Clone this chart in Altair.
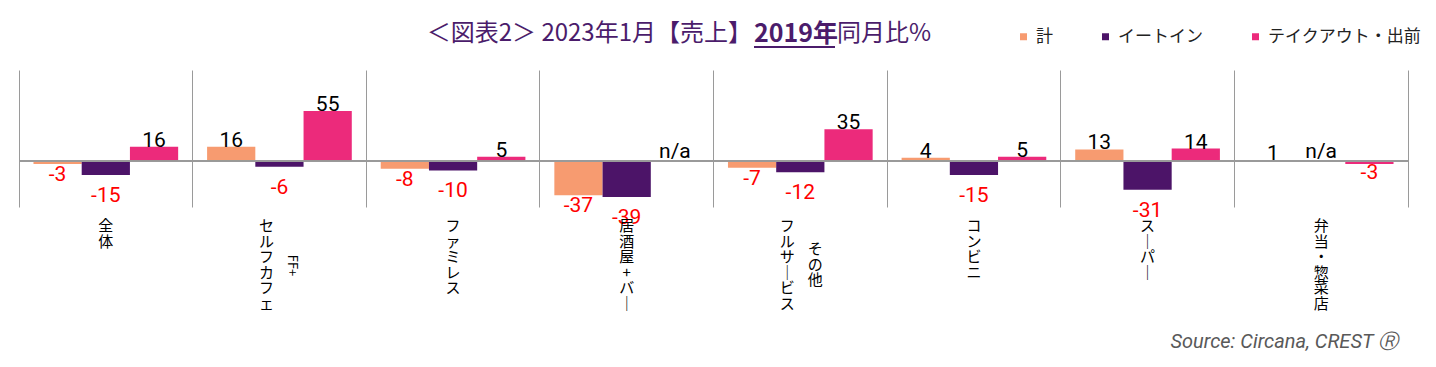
import altair as alt
import pandas as pd

# ---------------- data ----------------
categories = ["全体", "FF+セルフカフェ", "ファミレス", "居酒屋+バー",
              "フルサービスその他", "コンビニ", "スーパー", "弁当・惣菜店"]
label_columns = [["全体"], ["セルフカフェ", "FF+"], ["ファミレス"], ["居酒屋+バー"],
                 ["フルサービス", "その他"], ["コンビニ"], ["スーパー"], ["弁当・惣菜店"]]
series = ["計", "イートイン", "テイクアウト・出前"]
total = [-3, 16, -8, -37, -7, 4, 13, 1]
eat_in = [-15, -6, -10, -39, -12, -15, -31, None]
takeout = [16, 55, 5, None, 35, 5, 14, -3]
colors = ["#F79B70", "#4C1468", "#EC2A7B"]
title_parts = ["＜図表2＞ 2023年1月【売上】", "2019年", "同月比%"]
source_text = "Source: Circana, CREST Ⓡ"

# ---------------- layout ----------------
W, H = 1389, 137
YMIN, YMAX = -50, 100
GRID = "#9a9a9a"
JP = "Noto Sans CJK JP"
LH = 15.5

rows = []
for s, vals in zip(series, [total, eat_in, takeout]):
    for c, v in zip(categories, vals):
        rows.append({"cat": c, "series": s, "value": v,
                     "label": "n/a" if v is None else str(v)})
df = pd.DataFrame(rows)
df["value"] = df["value"].astype("float")


def vertical(s):
    return "\n".join(ch if ch != "ー" else "｜" for ch in s)


lab_rows = []
for c, cols in zip(categories, label_columns):
    maxlen = max(len(x) for x in cols)
    for i, col in enumerate(cols):
        if len(cols) == 1:
            kind = "single"
        elif i == 0:
            kind = "main"
        elif col.isascii():
            kind = "rot"
        else:
            kind = "second"
        lab_rows.append({"cat": c, "text": col if kind == "rot" else vertical(col),
                         "kind": kind, "maxlen": maxlen, "n": len(col)})
lab_df = pd.DataFrame(lab_rows)

yscale = alt.Scale(domain=[YMIN, YMAX], nice=False, zero=False)
yaxis = alt.Axis(orient="right", title=None, labels=False, ticks=False, grid=False,
                 domain=True, domainColor=GRID, domainWidth=1)
xscale = alt.Scale(paddingInner=0, paddingOuter=0)
xaxis = alt.Axis(title=None, labels=False, ticks=False, domain=False, grid=True,
                 bandPosition=0, gridColor=GRID, gridWidth=1)

X = alt.X("cat:N", sort=categories, scale=xscale, axis=xaxis)
XO = alt.XOffset("series:N", sort=series, scale=alt.Scale(paddingInner=0, paddingOuter=0.3))
Y = alt.Y("value:Q", scale=yscale, axis=yaxis)

base = alt.Chart(df)

bars = base.mark_bar().encode(
    x=X, xOffset=XO, y=Y,
    color=alt.Color("series:N", sort=series,
                    scale=alt.Scale(domain=series, range=colors),
                    legend=alt.Legend(orient="none", legendX=996, legendY=-42,
                                      direction="horizontal", title=None,
                                      symbolType="square", symbolSize=49,
                                      symbolStrokeWidth=0, labelFont=JP,
                                      labelFontSize=17, labelColor="#222222",
                                      labelOffset=4, columnPadding=44, padding=0)),
)

zero = alt.Chart(df).mark_rule(color=GRID, strokeWidth=1).encode(
    y=alt.Y(datum=0, scale=yscale, axis=yaxis))

val_font = dict(font="Roboto", fontSize=21)
pos_lab = base.transform_filter("datum.value != null && datum.value >= 0").mark_text(
    baseline="alphabetic", color="#000000", **val_font).encode(x=X, xOffset=XO, y=Y, text="label:N")

na_lab = base.transform_filter("datum.value == null").mark_text(
    baseline="alphabetic", color="#000000", dy=-3, **val_font).encode(
    x=X, xOffset=XO, y=alt.Y(datum=0, scale=yscale, axis=yaxis), text="label:N")

neg_layers = []
for s, d in zip(series, [11, 21, 9]):
    neg_layers.append(
        base.transform_filter(f"datum.value != null && datum.value < 0 && datum.series == '{s}'")
        .mark_text(baseline="middle", color="#FF0000", dy=d, **val_font)
        .encode(x=X, xOffset=XO, y=Y, text="label:N"))

lab_base = alt.Chart(lab_df)
YB = alt.Y(datum=YMIN, scale=yscale, axis=yaxis)
cat_font = dict(font=JP, fontSize=15, lineHeight=LH, lineBreak="\n", color="#000000")
lab_single = lab_base.transform_filter("datum.kind == 'single'").mark_text(
    baseline="top", dy=12, **cat_font).encode(x=X, y=YB, text="text:N")
lab_main = lab_base.transform_filter("datum.kind == 'main'").mark_text(
    baseline="top", dy=12, dx=-13, **cat_font).encode(x=X, y=YB, text="text:N")

second_layers = []
for r in lab_rows:
    if r["kind"] == "second":
        d = 12 + (r["maxlen"] - r["n"]) * LH / 2
        second_layers.append(
            lab_base.transform_filter(f"datum.kind == 'second' && datum.cat == '{r['cat']}'")
            .mark_text(baseline="top", dy=d, dx=15, **cat_font)
            .encode(x=X, y=YB, text="text:N"))
    elif r["kind"] == "rot":
        d = 12 + r["maxlen"] * LH / 2
        second_layers.append(
            lab_base.transform_filter(f"datum.kind == 'rot' && datum.cat == '{r['cat']}'")
            .mark_text(baseline="middle", align="center", angle=90, font=JP, fontSize=13,
                       color="#000000", dx=d, dy=-13)
            .encode(x=X, y=YB, text="text:N"))

tcol = "#4B1C6B"
tdf = pd.DataFrame({"t": title_parts})
t1 = alt.Chart(tdf).transform_filter(f"datum.t == '{title_parts[0]}'").mark_text(
    font=JP, fontSize=24, color=tcol, align="right", baseline="middle").encode(
    x=alt.value(733), y=alt.value(-36), text="t:N")
t2 = alt.Chart(tdf).transform_filter(f"datum.t == '{title_parts[1]}'").mark_text(
    font=JP, fontSize=25, fontWeight="bold", color=tcol, align="left", baseline="middle").encode(
    x=alt.value(735), y=alt.value(-36), text="t:N")
t3 = alt.Chart(tdf).transform_filter(f"datum.t == '{title_parts[2]}'").mark_text(
    font=JP, fontSize=24, color=tcol, align="left", baseline="middle").encode(
    x=alt.value(818), y=alt.value(-36), text="t:N")
uline = alt.Chart(tdf).mark_rule(color=tcol, strokeWidth=2).encode(
    x=alt.value(735), x2=alt.value(816), y=alt.value(-23))

src = alt.Chart(pd.DataFrame({"t": [source_text]})).mark_text(
    font="Roboto", fontSize=20, fontStyle="italic", color="#595959",
    align="right", baseline="middle").encode(x=alt.value(1379), y=alt.value(272), text="t:N")

chart = alt.layer(
    bars, zero, pos_lab, na_lab, *neg_layers,
    lab_single, lab_main, *second_layers,
    t1, t2, t3, uline, src,
).properties(
    width=W, height=H,
    autosize=alt.AutoSizeParams(type="none"),
    padding={"left": 11, "top": 62, "right": 20, "bottom": 152},
    background="white",
).configure_view(stroke=None)

chart.save("out.html", embed_options={"renderer": "svg", "actions": False})
